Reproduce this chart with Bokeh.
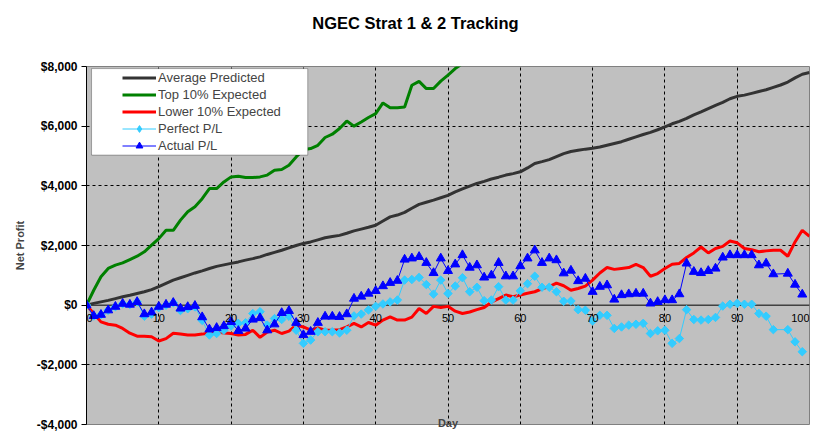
from bokeh.core.properties import value
from bokeh.embed import file_html
from bokeh.models import (BoxAnnotation, ColumnDataSource, FixedTicker, Label,
                          LabelSet, Legend, LegendItem, LinearAxis, Range1d, Span)
from bokeh.plotting import figure
from bokeh.resources import INLINE

# ---- data ----
days = list(range(101))

avg_predicted = [
    0, 60, 110, 160, 220, 280, 330, 390, 450, 520,
    620, 730, 840, 920, 1000, 1080, 1150, 1230, 1300, 1350,
    1400, 1450, 1510, 1560, 1620, 1700, 1770, 1840, 1920, 2000,
    2070, 2120, 2190, 2260, 2300, 2340, 2410, 2490, 2550, 2610,
    2680, 2820, 2960, 3020, 3110, 3250, 3380, 3450, 3520, 3600,
    3680, 3800, 3900, 3990, 4080, 4150, 4230, 4290, 4360, 4410,
    4470, 4600, 4750, 4810, 4880, 4980, 5080, 5150, 5190, 5230,
    5260, 5300, 5360, 5420, 5480, 5560, 5640, 5720, 5790, 5880,
    5980, 6080, 6160, 6260, 6380, 6480, 6590, 6700, 6800, 6920,
    7000, 7040, 7100, 7160, 7220, 7300, 7380, 7480, 7620, 7740,
    7800,
]

# top 10% leaves the chart around day 52
top_10 = [
    0, 500, 950, 1230, 1340, 1420, 1530, 1640, 1790, 2010,
    2230, 2510, 2510, 2850, 3130, 3300, 3570, 3910, 3910, 4130,
    4300, 4320, 4280, 4280, 4300, 4360, 4520, 4550, 4690, 4970,
    5210, 5250, 5360, 5620, 5730, 5920, 6170, 6000, 6140, 6290,
    6420, 6780, 6620, 6620, 6640, 7370, 7500, 7260, 7260, 7510,
    7710, 7930, 8100, 8300,
]

lower_10 = [
    0, -280, -560, -640, -670, -780, -940, -1040, -1040, -1060,
    -1200, -1120, -940, -970, -1000, -1000, -970, -930, -890, -930,
    -950, -1000, -980, -840, -1080, -900, -840, -950, -870, -670,
    -730, -840, -760, -840, -840, -820, -730, -610, -730, -580,
    -670, -500, -390, -500, -500, -400, -110, -280, -40, -80,
    -40, -200, -280, -230, -150, -80, 100, 220, 340, 280,
    340, 400, 450, 550, 620, 740, 650, 500, 560, 640,
    840, 1080, 1260, 1200, 1230, 1260, 1370, 1260, 970, 1060,
    1230, 1370, 1400, 1600, 1750, 1950, 1750, 1900, 1970, 2150,
    2090, 1900, 1860, 1790, 1820, 1840, 1840, 1640, 2120, 2510,
    2310,
]

# P/L series have no entry for day 96
pl_days = [d for d in range(100) if d != 96]

perfect_pl = [
    0, -360, -320, -170, -50, 50, 20, 110, -370, -300,
    -80, 0, 80, -180, -120, -60, -510, -1000, -950, -840,
    -700, -610, -590, -280, -220, -670, -450, -480, -370, -840,
    -1280, -1170, -890, -890, -890, -930, -840, -360, -300, -160,
    -40, 40, 110, 170, 840, 860, 930, 690, 370, 840,
    390, 640, 920, 450, 600, 150, 170, 620, 170, 170,
    480, 720, 970, 600, 600, 450, 130, 140, -150, -170,
    -530, -340, -340, -780, -730, -670, -640, -610, -950, -860,
    -840, -1280, -1120, -150, -480, -500, -480, -410, -30, 30,
    60, 30, 30, -280, -370, -820, -820, -1230, -1560,
]

actual_pl = [
    0, -360, -320, -170, -50, 50, 20, 110, -300, -240,
    -50, 20, 80, -110, -60, -20, -400, -810, -760, -700,
    -560, -860, -780, -480, -430, -840, -640, -260, -190, -590,
    -1000, -890, -590, -380, -380, -390, -300, 220, 290, 390,
    480, 640, 750, 820, 1530, 1570, 1620, 1420, 1080, 1570,
    1150, 1370, 1680, 1260, 1340, 930, 1000, 1420, 970, 970,
    1310, 1570, 1840, 1420, 1570, 1510, 1070, 1160, 810, 890,
    450, 620, 670, 190, 340, 370, 390, 390, 60, 110,
    170, 170, 370, 1400, 1120, 1080, 1150, 1230, 1600, 1680,
    1680, 1680, 1680, 1340, 1400, 1040, 1060, 690, 360,
]

x_ticks = [0, 10, 20, 30, 40, 50, 60, 70, 80, 90, 100]
x_tick_labels = [str(t) for t in x_ticks]
y_ticks = [-4000, -2000, 0, 2000, 4000, 6000, 8000]
y_tick_labels = ["-$4,000", "-$2,000", "$0", "$2,000", "$4,000", "$6,000", "$8,000"]

TITLE = "NGEC Strat 1 & 2 Tracking"
TITLE_AT = 45.5  # the title is centred on the whole chart, not on the plot area

FONT = "Liberation Sans"

p = figure(width=820, height=445, x_range=Range1d(0, 100), y_range=Range1d(-4000, 8000),
           output_backend="svg", toolbar_location=None,
           min_border_left=86, min_border_right=11, min_border_top=66, min_border_bottom=21,
           background_fill_color="#C0C0C0", border_fill_color="white",
           outline_line_color="#808080")

# grid: black dashed, inner lines only
p.xgrid.ticker = FixedTicker(ticks=x_ticks[1:-1])
p.ygrid.ticker = FixedTicker(ticks=[t for t in y_ticks[1:-1] if t != 0])
p.grid.grid_line_color = "black"
p.grid.grid_line_dash = "3 3"
p.grid.grid_line_alpha = 1

# bottom axis only carries the "Day" title, which overlaps the plot edge
xax = p.below[0]
xax.ticker = FixedTicker(ticks=[])
xax.axis_line_color = None
xax.major_tick_out = 0
xax.major_tick_in = 0
xax.minor_tick_out = 0
xax.minor_tick_in = 0
xax.major_label_standoff = 0
xax.axis_label = "Day"
xax.axis_label_text_font = FONT
xax.axis_label_text_font_style = "bold"
xax.axis_label_text_font_size = "11px"
xax.axis_label_standoff = -8

# title: one labelled tick on a bare axis above the plot, so it can sit off-centre
title_axis = LinearAxis(ticker=FixedTicker(ticks=[TITLE_AT]),
                        major_label_overrides={TITLE_AT: TITLE},
                        axis_line_color=None, major_tick_line_color=None,
                        major_tick_out=0, major_tick_in=0, minor_tick_out=0, minor_tick_in=0,
                        major_label_standoff=35, major_label_text_font=FONT,
                        major_label_text_font_style="bold",
                        major_label_text_font_size="16.5px",
                        major_label_text_color="black")
p.add_layout(title_axis, "above")

yax = p.left[0]
yax.ticker = FixedTicker(ticks=y_ticks)
yax.major_label_overrides = dict(zip(y_ticks, y_tick_labels))
yax.major_label_text_font = FONT
yax.major_label_text_font_style = "bold"
yax.major_label_text_font_size = "12px"
yax.major_label_text_color = "black"
yax.axis_line_color = "black"
yax.major_tick_line_color = "black"
yax.major_tick_out = 5
yax.major_tick_in = 0
yax.minor_tick_out = 0
yax.minor_tick_in = 0
yax.major_label_standoff = 4
yax.axis_label = "Net Profit"
yax.axis_label_text_font = FONT
yax.axis_label_text_font_style = "bold"
yax.axis_label_text_font_size = "11px"
yax.axis_label_standoff = 8

# the category axis crosses at $0
p.add_layout(Span(location=0, dimension="width", line_color="black", line_width=1,
                  level="underlay"))

r_avg = p.line(days, avg_predicted, line_color="#333333", line_width=3)
r_top = p.line(days[:len(top_10)], top_10, line_color="#008000", line_width=3)
r_low = p.line(days, lower_10, line_color="#FF0000", line_width=3)

pl_src = ColumnDataSource(data=dict(day=pl_days, perfect=perfect_pl, actual=actual_pl))
r_perf_l = p.line("day", "perfect", source=pl_src, line_color="#33CCFF", line_width=1)
p.scatter("day", "perfect", source=pl_src, marker="square", angle=0.785,
          size=6, fill_color="#33CCFF", line_color="#33CCFF")
r_act_l = p.line("day", "actual", source=pl_src, line_color="#0000FF", line_width=1)
r_act_m = p.scatter("day", "actual", source=pl_src, marker="triangle", size=9,
                    fill_color="#0000FF", line_color="#0000FF")
# legend sample only (the legend ignores the marker angle); nothing is plotted
r_perf_key = p.scatter(x=[float("nan")], y=[float("nan")], marker="diamond", size=10,
                       fill_color="#33CCFF", line_color="#33CCFF")

# day labels sit just under the $0 line; the end ones are kept inside the frame
tick_src = ColumnDataSource(data=dict(x=x_ticks[1:-1], y=[0] * (len(x_ticks) - 2),
                                      text=x_tick_labels[1:-1]))
tick_style = dict(text_baseline="top", y_offset=-9, text_font_size="11px", text_color="black")
p.add_layout(LabelSet(x="x", y="y", text="text", source=tick_src, text_align="center",
                      text_font=value(FONT), **tick_style))
p.add_layout(Label(x=x_ticks[0], y=0, text=x_tick_labels[0], text_align="left",
                   text_font=FONT, **tick_style))
p.add_layout(Label(x=x_ticks[-1], y=0, text=x_tick_labels[-1], text_align="right",
                   text_font=FONT, **tick_style))

# legend box drawn separately so the samples can sit further in
p.add_layout(BoxAnnotation(left=0.7, right=30.6, top=7930, bottom=5030, fill_color="white",
                           fill_alpha=1, line_color="black", line_width=1))
legend = Legend(items=[
    LegendItem(label="Average Predicted", renderers=[r_avg]),
    LegendItem(label="Top 10% Expected", renderers=[r_top]),
    LegendItem(label="Lower 10% Expected", renderers=[r_low]),
    LegendItem(label="Perfect P/L", renderers=[r_perf_l, r_perf_key]),
    LegendItem(label="Actual P/L", renderers=[r_act_l, r_act_m]),
], location=(35, 269), padding=1, spacing=0, margin=0, glyph_width=34, glyph_height=17,
    label_height=17, label_standoff=2, label_text_font=FONT, label_text_font_size="13px",
    background_fill_alpha=0, border_line_alpha=0)
p.add_layout(legend)

open("out.html", "w").write(file_html(p, INLINE))
